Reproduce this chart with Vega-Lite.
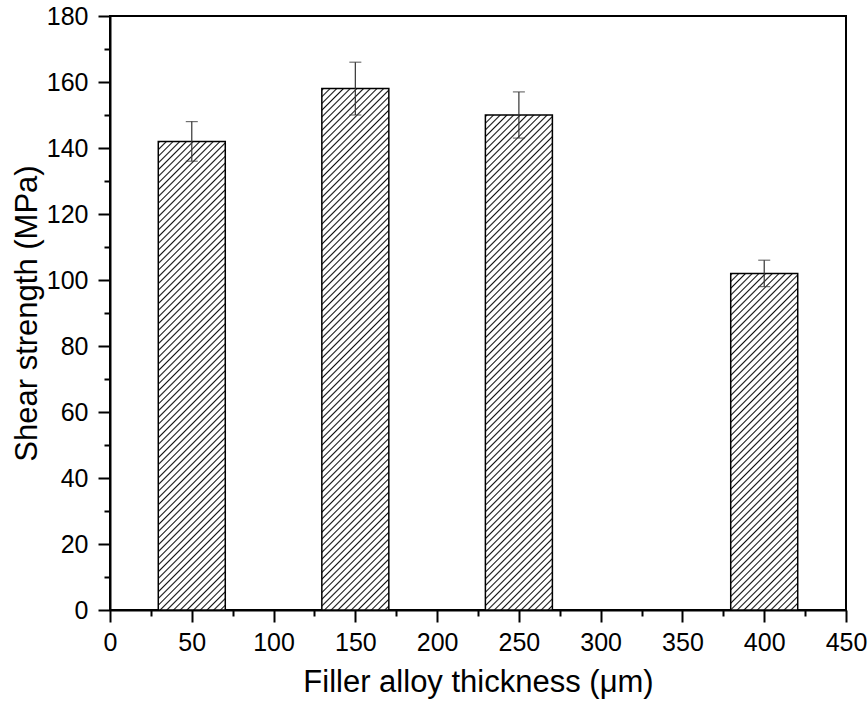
{
"$schema": "https://vega.github.io/schema/vega-lite/v6.json",
"width": 736, "height": 594,
"autosize": {"type": "none"},
"padding": {"left": 110, "top": 16, "right": 22, "bottom": 99},
"background": "white",
"config": {"view": {"stroke": "black", "strokeWidth": 2}, "font": "Liberation Sans"},
"params": [{"name": "hs", "value": [
{"offset":0,"color":"#fff"},{"offset":0.0022,"color":"#111"},{"offset":0.0045,"color":"#fff"},
{"offset":0.01,"color":"#fff"},{"offset":0.0122,"color":"#111"},{"offset":0.0145,"color":"#fff"},
{"offset":0.02,"color":"#fff"},{"offset":0.0222,"color":"#111"},{"offset":0.0245,"color":"#fff"},
{"offset":0.03,"color":"#fff"},{"offset":0.0322,"color":"#111"},{"offset":0.0345,"color":"#fff"},
{"offset":0.04,"color":"#fff"},{"offset":0.0422,"color":"#111"},{"offset":0.0445,"color":"#fff"},
{"offset":0.05,"color":"#fff"},{"offset":0.0522,"color":"#111"},{"offset":0.0545,"color":"#fff"},
{"offset":0.06,"color":"#fff"},{"offset":0.0622,"color":"#111"},{"offset":0.0645,"color":"#fff"},
{"offset":0.07,"color":"#fff"},{"offset":0.0722,"color":"#111"},{"offset":0.0745,"color":"#fff"},
{"offset":0.08,"color":"#fff"},{"offset":0.0822,"color":"#111"},{"offset":0.0845,"color":"#fff"},
{"offset":0.09,"color":"#fff"},{"offset":0.0922,"color":"#111"},{"offset":0.0945,"color":"#fff"},
{"offset":0.10,"color":"#fff"},{"offset":0.1022,"color":"#111"},{"offset":0.1045,"color":"#fff"},
{"offset":0.11,"color":"#fff"},{"offset":0.1122,"color":"#111"},{"offset":0.1145,"color":"#fff"},
{"offset":0.12,"color":"#fff"},{"offset":0.1222,"color":"#111"},{"offset":0.1245,"color":"#fff"},
{"offset":0.13,"color":"#fff"},{"offset":0.1322,"color":"#111"},{"offset":0.1345,"color":"#fff"},
{"offset":0.14,"color":"#fff"},{"offset":0.1422,"color":"#111"},{"offset":0.1445,"color":"#fff"},
{"offset":0.15,"color":"#fff"},{"offset":0.1522,"color":"#111"},{"offset":0.1545,"color":"#fff"},
{"offset":0.16,"color":"#fff"},{"offset":0.1622,"color":"#111"},{"offset":0.1645,"color":"#fff"},
{"offset":0.17,"color":"#fff"},{"offset":0.1722,"color":"#111"},{"offset":0.1745,"color":"#fff"},
{"offset":0.18,"color":"#fff"},{"offset":0.1822,"color":"#111"},{"offset":0.1845,"color":"#fff"},
{"offset":0.19,"color":"#fff"},{"offset":0.1922,"color":"#111"},{"offset":0.1945,"color":"#fff"},
{"offset":0.20,"color":"#fff"},{"offset":0.2022,"color":"#111"},{"offset":0.2045,"color":"#fff"},
{"offset":0.21,"color":"#fff"},{"offset":0.2122,"color":"#111"},{"offset":0.2145,"color":"#fff"},
{"offset":0.22,"color":"#fff"},{"offset":0.2222,"color":"#111"},{"offset":0.2245,"color":"#fff"},
{"offset":0.23,"color":"#fff"},{"offset":0.2322,"color":"#111"},{"offset":0.2345,"color":"#fff"},
{"offset":0.24,"color":"#fff"},{"offset":0.2422,"color":"#111"},{"offset":0.2445,"color":"#fff"},
{"offset":0.25,"color":"#fff"},{"offset":0.2522,"color":"#111"},{"offset":0.2545,"color":"#fff"},
{"offset":0.26,"color":"#fff"},{"offset":0.2622,"color":"#111"},{"offset":0.2645,"color":"#fff"},
{"offset":0.27,"color":"#fff"},{"offset":0.2722,"color":"#111"},{"offset":0.2745,"color":"#fff"},
{"offset":0.28,"color":"#fff"},{"offset":0.2822,"color":"#111"},{"offset":0.2845,"color":"#fff"},
{"offset":0.29,"color":"#fff"},{"offset":0.2922,"color":"#111"},{"offset":0.2945,"color":"#fff"},
{"offset":0.30,"color":"#fff"},{"offset":0.3022,"color":"#111"},{"offset":0.3045,"color":"#fff"},
{"offset":0.31,"color":"#fff"},{"offset":0.3122,"color":"#111"},{"offset":0.3145,"color":"#fff"},
{"offset":0.32,"color":"#fff"},{"offset":0.3222,"color":"#111"},{"offset":0.3245,"color":"#fff"},
{"offset":0.33,"color":"#fff"},{"offset":0.3322,"color":"#111"},{"offset":0.3345,"color":"#fff"},
{"offset":0.34,"color":"#fff"},{"offset":0.3422,"color":"#111"},{"offset":0.3445,"color":"#fff"},
{"offset":0.35,"color":"#fff"},{"offset":0.3522,"color":"#111"},{"offset":0.3545,"color":"#fff"},
{"offset":0.36,"color":"#fff"},{"offset":0.3622,"color":"#111"},{"offset":0.3645,"color":"#fff"},
{"offset":0.37,"color":"#fff"},{"offset":0.3722,"color":"#111"},{"offset":0.3745,"color":"#fff"},
{"offset":0.38,"color":"#fff"},{"offset":0.3822,"color":"#111"},{"offset":0.3845,"color":"#fff"},
{"offset":0.39,"color":"#fff"},{"offset":0.3922,"color":"#111"},{"offset":0.3945,"color":"#fff"},
{"offset":0.40,"color":"#fff"},{"offset":0.4022,"color":"#111"},{"offset":0.4045,"color":"#fff"},
{"offset":0.41,"color":"#fff"},{"offset":0.4122,"color":"#111"},{"offset":0.4145,"color":"#fff"},
{"offset":0.42,"color":"#fff"},{"offset":0.4222,"color":"#111"},{"offset":0.4245,"color":"#fff"},
{"offset":0.43,"color":"#fff"},{"offset":0.4322,"color":"#111"},{"offset":0.4345,"color":"#fff"},
{"offset":0.44,"color":"#fff"},{"offset":0.4422,"color":"#111"},{"offset":0.4445,"color":"#fff"},
{"offset":0.45,"color":"#fff"},{"offset":0.4522,"color":"#111"},{"offset":0.4545,"color":"#fff"},
{"offset":0.46,"color":"#fff"},{"offset":0.4622,"color":"#111"},{"offset":0.4645,"color":"#fff"},
{"offset":0.47,"color":"#fff"},{"offset":0.4722,"color":"#111"},{"offset":0.4745,"color":"#fff"},
{"offset":0.48,"color":"#fff"},{"offset":0.4822,"color":"#111"},{"offset":0.4845,"color":"#fff"},
{"offset":0.49,"color":"#fff"},{"offset":0.4922,"color":"#111"},{"offset":0.4945,"color":"#fff"},
{"offset":0.50,"color":"#fff"},{"offset":0.5022,"color":"#111"},{"offset":0.5045,"color":"#fff"},
{"offset":0.51,"color":"#fff"},{"offset":0.5122,"color":"#111"},{"offset":0.5145,"color":"#fff"},
{"offset":0.52,"color":"#fff"},{"offset":0.5222,"color":"#111"},{"offset":0.5245,"color":"#fff"},
{"offset":0.53,"color":"#fff"},{"offset":0.5322,"color":"#111"},{"offset":0.5345,"color":"#fff"},
{"offset":0.54,"color":"#fff"},{"offset":0.5422,"color":"#111"},{"offset":0.5445,"color":"#fff"},
{"offset":0.55,"color":"#fff"},{"offset":0.5522,"color":"#111"},{"offset":0.5545,"color":"#fff"},
{"offset":0.56,"color":"#fff"},{"offset":0.5622,"color":"#111"},{"offset":0.5645,"color":"#fff"},
{"offset":0.57,"color":"#fff"},{"offset":0.5722,"color":"#111"},{"offset":0.5745,"color":"#fff"},
{"offset":0.58,"color":"#fff"},{"offset":0.5822,"color":"#111"},{"offset":0.5845,"color":"#fff"},
{"offset":0.59,"color":"#fff"},{"offset":0.5922,"color":"#111"},{"offset":0.5945,"color":"#fff"},
{"offset":0.60,"color":"#fff"},{"offset":0.6022,"color":"#111"},{"offset":0.6045,"color":"#fff"},
{"offset":0.61,"color":"#fff"},{"offset":0.6122,"color":"#111"},{"offset":0.6145,"color":"#fff"},
{"offset":0.62,"color":"#fff"},{"offset":0.6222,"color":"#111"},{"offset":0.6245,"color":"#fff"},
{"offset":0.63,"color":"#fff"},{"offset":0.6322,"color":"#111"},{"offset":0.6345,"color":"#fff"},
{"offset":0.64,"color":"#fff"},{"offset":0.6422,"color":"#111"},{"offset":0.6445,"color":"#fff"},
{"offset":0.65,"color":"#fff"},{"offset":0.6522,"color":"#111"},{"offset":0.6545,"color":"#fff"},
{"offset":0.66,"color":"#fff"},{"offset":0.6622,"color":"#111"},{"offset":0.6645,"color":"#fff"},
{"offset":0.67,"color":"#fff"},{"offset":0.6722,"color":"#111"},{"offset":0.6745,"color":"#fff"},
{"offset":0.68,"color":"#fff"},{"offset":0.6822,"color":"#111"},{"offset":0.6845,"color":"#fff"},
{"offset":0.69,"color":"#fff"},{"offset":0.6922,"color":"#111"},{"offset":0.6945,"color":"#fff"},
{"offset":0.70,"color":"#fff"},{"offset":0.7022,"color":"#111"},{"offset":0.7045,"color":"#fff"},
{"offset":0.71,"color":"#fff"},{"offset":0.7122,"color":"#111"},{"offset":0.7145,"color":"#fff"},
{"offset":0.72,"color":"#fff"},{"offset":0.7222,"color":"#111"},{"offset":0.7245,"color":"#fff"},
{"offset":0.73,"color":"#fff"},{"offset":0.7322,"color":"#111"},{"offset":0.7345,"color":"#fff"},
{"offset":0.74,"color":"#fff"},{"offset":0.7422,"color":"#111"},{"offset":0.7445,"color":"#fff"},
{"offset":0.75,"color":"#fff"},{"offset":0.7522,"color":"#111"},{"offset":0.7545,"color":"#fff"},
{"offset":0.76,"color":"#fff"},{"offset":0.7622,"color":"#111"},{"offset":0.7645,"color":"#fff"},
{"offset":0.77,"color":"#fff"},{"offset":0.7722,"color":"#111"},{"offset":0.7745,"color":"#fff"},
{"offset":0.78,"color":"#fff"},{"offset":0.7822,"color":"#111"},{"offset":0.7845,"color":"#fff"},
{"offset":0.79,"color":"#fff"},{"offset":0.7922,"color":"#111"},{"offset":0.7945,"color":"#fff"},
{"offset":0.80,"color":"#fff"},{"offset":0.8022,"color":"#111"},{"offset":0.8045,"color":"#fff"},
{"offset":0.81,"color":"#fff"},{"offset":0.8122,"color":"#111"},{"offset":0.8145,"color":"#fff"},
{"offset":0.82,"color":"#fff"},{"offset":0.8222,"color":"#111"},{"offset":0.8245,"color":"#fff"},
{"offset":0.83,"color":"#fff"},{"offset":0.8322,"color":"#111"},{"offset":0.8345,"color":"#fff"},
{"offset":0.84,"color":"#fff"},{"offset":0.8422,"color":"#111"},{"offset":0.8445,"color":"#fff"},
{"offset":0.85,"color":"#fff"},{"offset":0.8522,"color":"#111"},{"offset":0.8545,"color":"#fff"},
{"offset":0.86,"color":"#fff"},{"offset":0.8622,"color":"#111"},{"offset":0.8645,"color":"#fff"},
{"offset":0.87,"color":"#fff"},{"offset":0.8722,"color":"#111"},{"offset":0.8745,"color":"#fff"},
{"offset":0.88,"color":"#fff"},{"offset":0.8822,"color":"#111"},{"offset":0.8845,"color":"#fff"}
]}],
"data": {"values": [
{"thickness": 50, "strength": 142, "err": 6},
{"thickness": 150, "strength": 158, "err": 8},
{"thickness": 250, "strength": 150, "err": 7},
{"thickness": 400, "strength": 102, "err": 4}
]},
"encoding": {
"x": {"field": "thickness", "type": "quantitative", "scale": {"domain": [0, 450], "nice": false, "padding": 0},
 "axis": {"title": "Filler alloy thickness (μm)", "values": [0,25,50,75,100,125,150,175,200,225,250,275,300,325,350,375,400,425,450],
  "labelExpr": "datum.value % 50 == 0 ? datum.label : ''",
  "tickSize": {"condition": {"test": "datum.value % 50 == 0", "value": 12}, "value": 6},
  "tickWidth": 2, "tickColor": "black", "domainColor": "black", "domainWidth": 2, "grid": false,
  "labelFont": "Liberation Sans", "labelFontSize": 25, "labelColor": "black", "labelPadding": 8, "labelFlush": false, "labelOverlap": false,
  "titleFont": "Liberation Sans", "titleFontSize": 31, "titleFontWeight": "normal", "titleColor": "black", "titlePadding": 12}},
"y": {"field": "strength", "type": "quantitative", "scale": {"domain": [0, 180], "nice": false, "padding": 0},
 "axis": {"title": "Shear strength (MPa)", "values": [0,10,20,30,40,50,60,70,80,90,100,110,120,130,140,150,160,170,180],
  "labelExpr": "datum.value % 20 == 0 ? datum.label : ''",
  "tickSize": {"condition": {"test": "datum.value % 20 == 0", "value": 12}, "value": 6},
  "tickWidth": 2, "tickColor": "black", "domainColor": "black", "domainWidth": 2, "grid": false,
  "labelFont": "Liberation Sans", "labelFontSize": 25, "labelColor": "black", "labelPadding": 10, "labelFlush": false, "labelOverlap": false,
  "titleFont": "Liberation Sans", "titleFontSize": 31, "titleFontWeight": "normal", "titleColor": "black", "titlePadding": 3}}
},
"layer": [
{"mark": {"type": "bar", "width": 67, "stroke": "black", "strokeWidth": 1.5},
 "encoding": {"fill": {"condition": [
  {"test": "datum.thickness == 50", "value": {"expr": "{gradient:'linear',x1:0,y1:0,x2:0.20034,y2:1.40115,stops:hs}"}},
  {"test": "datum.thickness == 150", "value": {"expr": "{gradient:'linear',x1:0,y1:0,x2:0.16244,y2:1.26413,stops:hs}"}},
  {"test": "datum.thickness == 250", "value": {"expr": "{gradient:'linear',x1:0,y1:0,x2:0.17991,y2:1.32918,stops:hs}"}},
  {"test": "datum.thickness == 400", "value": {"expr": "{gradient:'linear',x1:0,y1:0,x2:0.38111,y2:1.91464,stops:hs}"}}
 ], "value": "#bbbbbb"}}},
{"mark": {"type": "errorbar", "color": "#333333", "ticks": {"size": 12, "thickness": 1.2, "color": "#333333"}, "rule": {"strokeWidth": 1.2, "color": "#333333"}},
 "encoding": {"yError": {"field": "err"}}}
]
}
